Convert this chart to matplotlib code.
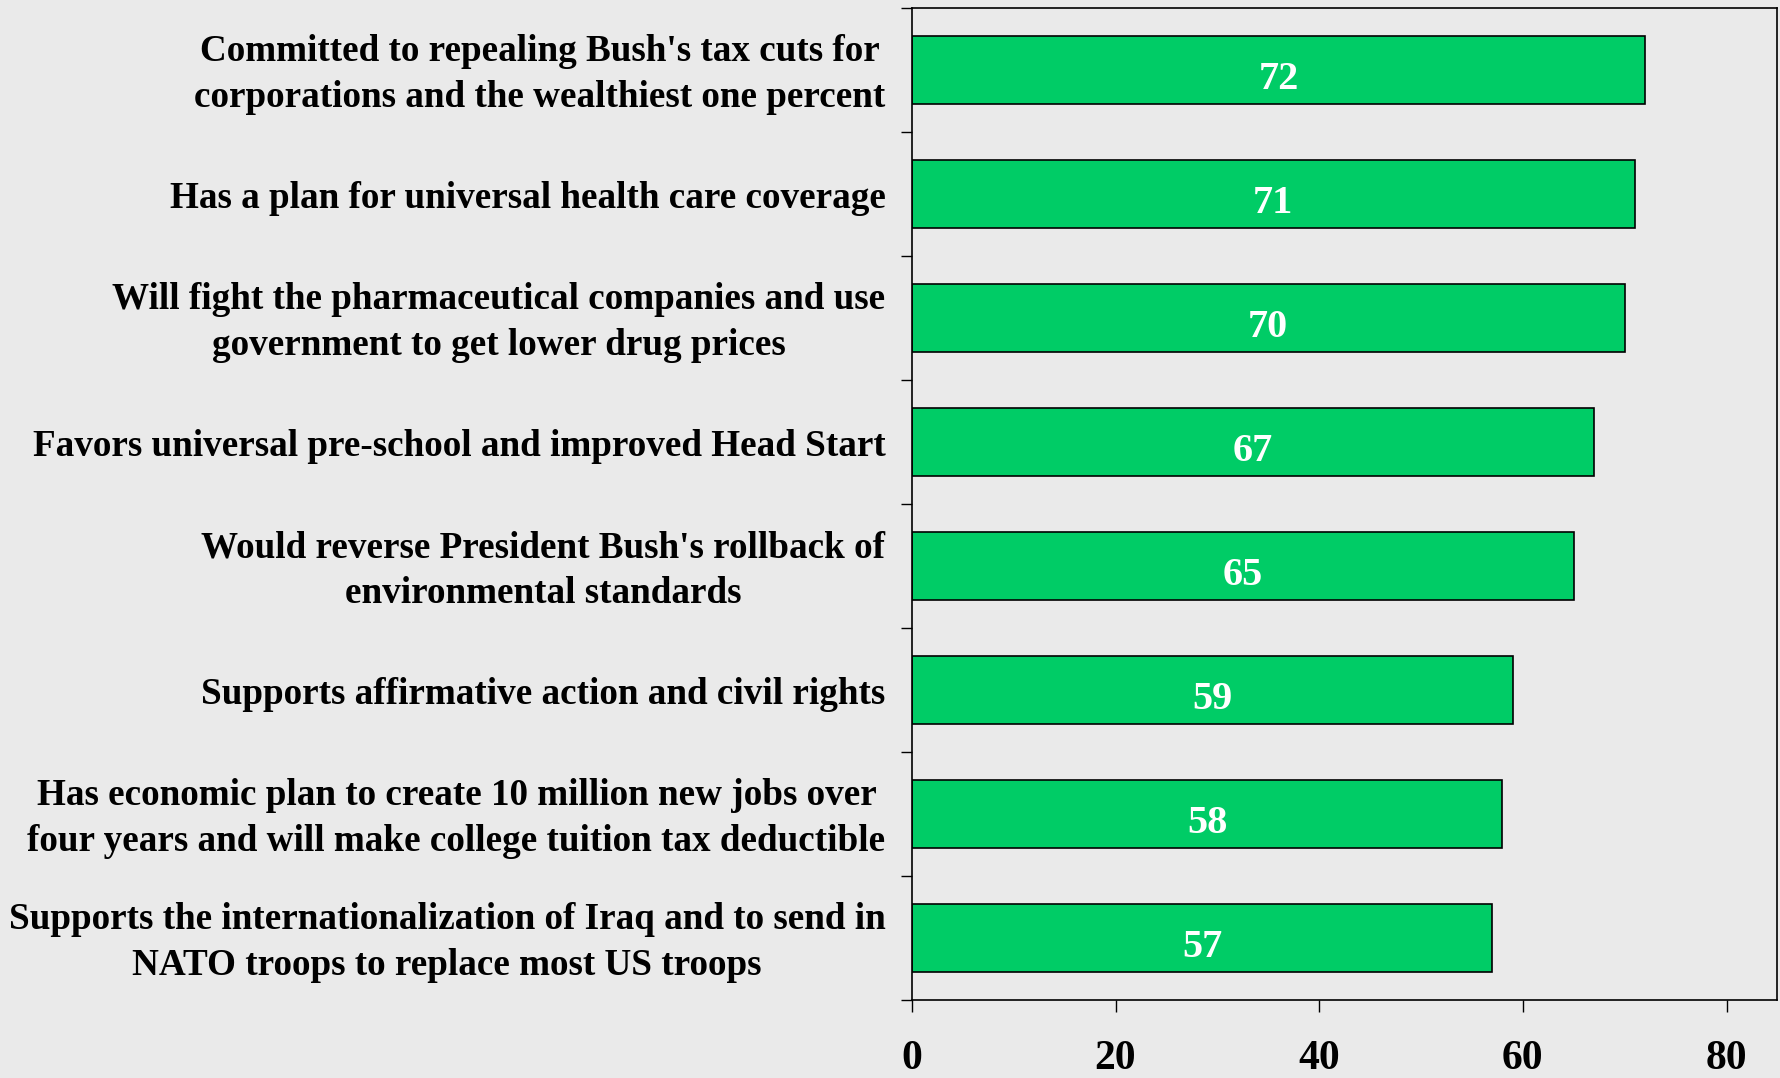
import matplotlib.pyplot as plt

# --- data ---
labels = [
    "Committed to repealing Bush's tax cuts for\ncorporations and the wealthiest one percent",
    "Has a plan for universal health care coverage",
    "Will fight the pharmaceutical companies and use\ngovernment to get lower drug prices",
    "Favors universal pre-school and improved Head Start",
    "Would reverse President Bush's rollback of\nenvironmental standards",
    "Supports affirmative action and civil rights",
    "Has economic plan to create 10 million new jobs over\nfour years and will make college tuition tax deductible",
    "Supports the internationalization of Iraq and to send in\nNATO troops to replace most US troops",
]
values = [72, 71, 70, 67, 65, 59, 58, 57]
xticks = [0, 20, 40, 60, 80]

BG = "#EAEAEA"
GREEN = "#00CC66"
plt.rcParams["font.family"] = ["Liberation Serif", "DejaVu Serif"]
plt.rcParams["font.weight"] = "bold"

fig = plt.figure(figsize=(17.81, 10.78), dpi=100, facecolor=BG)
ax = fig.add_axes([0.512, 0.0724, 0.486, 0.9202], facecolor=BG)

ypos = list(range(len(values)))
ax.barh(ypos, values, height=0.55, color=GREEN, edgecolor="black", linewidth=1.2)

# value labels inside bars
for y, v in zip(ypos, values):
    ax.text(v / 2, y + 0.08, str(v), ha="center", va="center",
            color="white", fontsize=29, fontweight="bold")

# category labels to the left of the axis
for y, lab in zip(ypos, labels):
    ax.annotate(lab, xy=(0, y), xycoords=("axes fraction", "data"),
                xytext=(-19, -3.5), textcoords="offset points",
                ha="right", va="center", multialignment="center",
                fontsize=26.7, fontweight="bold", linespacing=1.4)

ax.set_xlim(0, 85)
ax.set_ylim(len(values) - 0.5, -0.5)
ax.set_yticks([i - 0.5 for i in range(len(values) + 1)])
ax.set_yticklabels([])
ax.set_xticks(xticks)
ax.set_xticklabels([str(t) for t in xticks], fontsize=30, fontweight="bold")

for s in ax.spines.values():
    s.set_linewidth(1.2)
ax.tick_params(axis="y", length=8, width=1.0, direction="out")
ax.tick_params(axis="x", length=8.5, width=1.0, direction="out", pad=20)

fig.savefig("out.png", dpi=100, facecolor=BG)
